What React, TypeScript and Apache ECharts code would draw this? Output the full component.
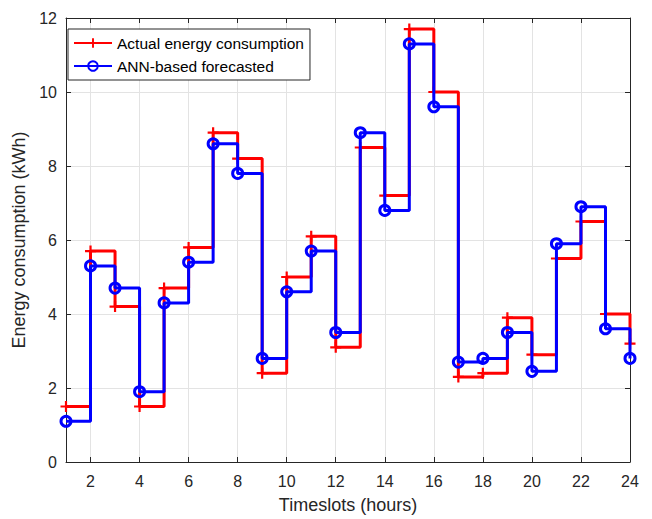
import React, { useEffect, useRef } from "react";
import * as echarts from "echarts";

const timeslots = [1, 2, 3, 4, 5, 6, 7, 8, 9, 10, 11, 12, 13, 14, 15, 16, 17, 18, 19, 20, 21, 22, 23, 24];
const actual = [1.5, 5.7, 4.2, 1.5, 4.7, 5.8, 8.9, 8.2, 2.4, 5.0, 6.1, 3.1, 8.5, 7.2, 11.7, 10.0, 2.3, 2.4, 3.9, 2.9, 5.5, 6.5, 4.0, 3.2];
const forecast = [1.1, 5.3, 4.7, 1.9, 4.3, 5.4, 8.6, 7.8, 2.8, 4.6, 5.7, 3.5, 8.9, 6.8, 11.3, 9.6, 2.7, 2.8, 3.5, 2.45, 5.9, 6.9, 3.6, 2.8];
const xTicks = [2, 4, 6, 8, 10, 12, 14, 16, 18, 20, 22, 24];

const PLUS = "path://M4,0 H6 V4 H10 V6 H6 V10 H4 V6 H0 V4 H4 Z";
const AXIS = "#262626";
const GRIDC = "#e3e3e3";
const FONT = "Liberation Sans, Arial, sans-serif";

export default function App() {
  const ref = useRef<HTMLDivElement>(null);
  useEffect(() => {
    const chart = echarts.init(ref.current!, null, { renderer: "svg" });
    const xCommon = {
      type: "value",
      min: 1,
      max: 24,
      axisLine: { show: true, onZero: false, lineStyle: { color: AXIS, width: 1 } },
      axisTick: { show: true, inside: true, length: 5, customValues: xTicks, lineStyle: { color: AXIS } },
    };
    chart.setOption({
      animation: false,
      backgroundColor: "#fff",
      textStyle: { fontFamily: FONT },
      grid: { left: 66, right: 22, top: 18, bottom: 57 },
      legend: {
        orient: "vertical",
        left: 68,
        top: 29,
        padding: [6, 6, 6, 5],
        backgroundColor: "#fff",
        borderColor: AXIS,
        borderWidth: 1,
        borderRadius: 0,
        itemWidth: 38,
        itemHeight: 12,
        itemGap: 7,
        textStyle: { fontSize: 15.5, color: "#000", fontFamily: FONT },
        data: ["Actual energy consumption", "ANN-based forecasted"],
      },
      xAxis: [
        {
          ...xCommon,
          position: "bottom",
          name: "Timeslots (hours)",
          nameLocation: "middle",
          nameGap: 34,
          nameTextStyle: { fontSize: 18, color: AXIS, fontFamily: FONT },
          axisLabel: { show: true, customValues: xTicks, fontSize: 16, color: AXIS, margin: 11, fontFamily: FONT },
          splitLine: { show: true, lineStyle: { color: GRIDC, width: 1 } },
        },
        {
          ...xCommon,
          position: "top",
          axisLabel: { show: false },
          splitLine: { show: false },
        },
      ],
      yAxis: [
        {
          type: "value",
          min: 0,
          max: 12,
          interval: 2,
          position: "left",
          name: "Energy consumption (kWh)",
          nameLocation: "middle",
          nameGap: 36,
          nameTextStyle: { fontSize: 18, color: AXIS, fontFamily: FONT },
          axisLine: { show: true, lineStyle: { color: AXIS } },
          axisTick: { show: true, inside: true, length: 5, lineStyle: { color: AXIS } },
          axisLabel: { fontSize: 16, color: AXIS, margin: 9, fontFamily: FONT },
          splitLine: { show: true, lineStyle: { color: GRIDC, width: 1 } },
        },
        {
          type: "value",
          min: 0,
          max: 12,
          interval: 2,
          position: "right",
          axisLine: { show: true, lineStyle: { color: AXIS } },
          axisTick: { show: true, inside: true, length: 5, lineStyle: { color: AXIS } },
          axisLabel: { show: false },
          splitLine: { show: false },
        },
      ],
      series: [
        {
          name: "Actual energy consumption",
          type: "line",
          step: "end",
          data: timeslots.map((t, i) => [t, actual[i]]),
          symbol: PLUS,
          symbolSize: 11,
          showAllSymbol: true,
          color: "#ff0000",
          itemStyle: { color: "#ff0000" },
          lineStyle: { color: "#ff0000", width: 3 },
          z: 2,
        },
        {
          name: "ANN-based forecasted",
          type: "line",
          step: "end",
          data: timeslots.map((t, i) => [t, forecast[i]]),
          symbol: "circle",
          symbolSize: 10,
          showAllSymbol: true,
          color: "#0000ff",
          itemStyle: { color: "rgba(255,255,255,0)", borderColor: "#0000ff", borderWidth: 3 },
          lineStyle: { color: "#0000ff", width: 3 },
          z: 3,
        },
      ],
    });
    return () => chart.dispose();
  }, []);
  return <div ref={ref} style={{ width: 652, height: 519, position: "absolute", left: 0, top: 0 }} />;
}
